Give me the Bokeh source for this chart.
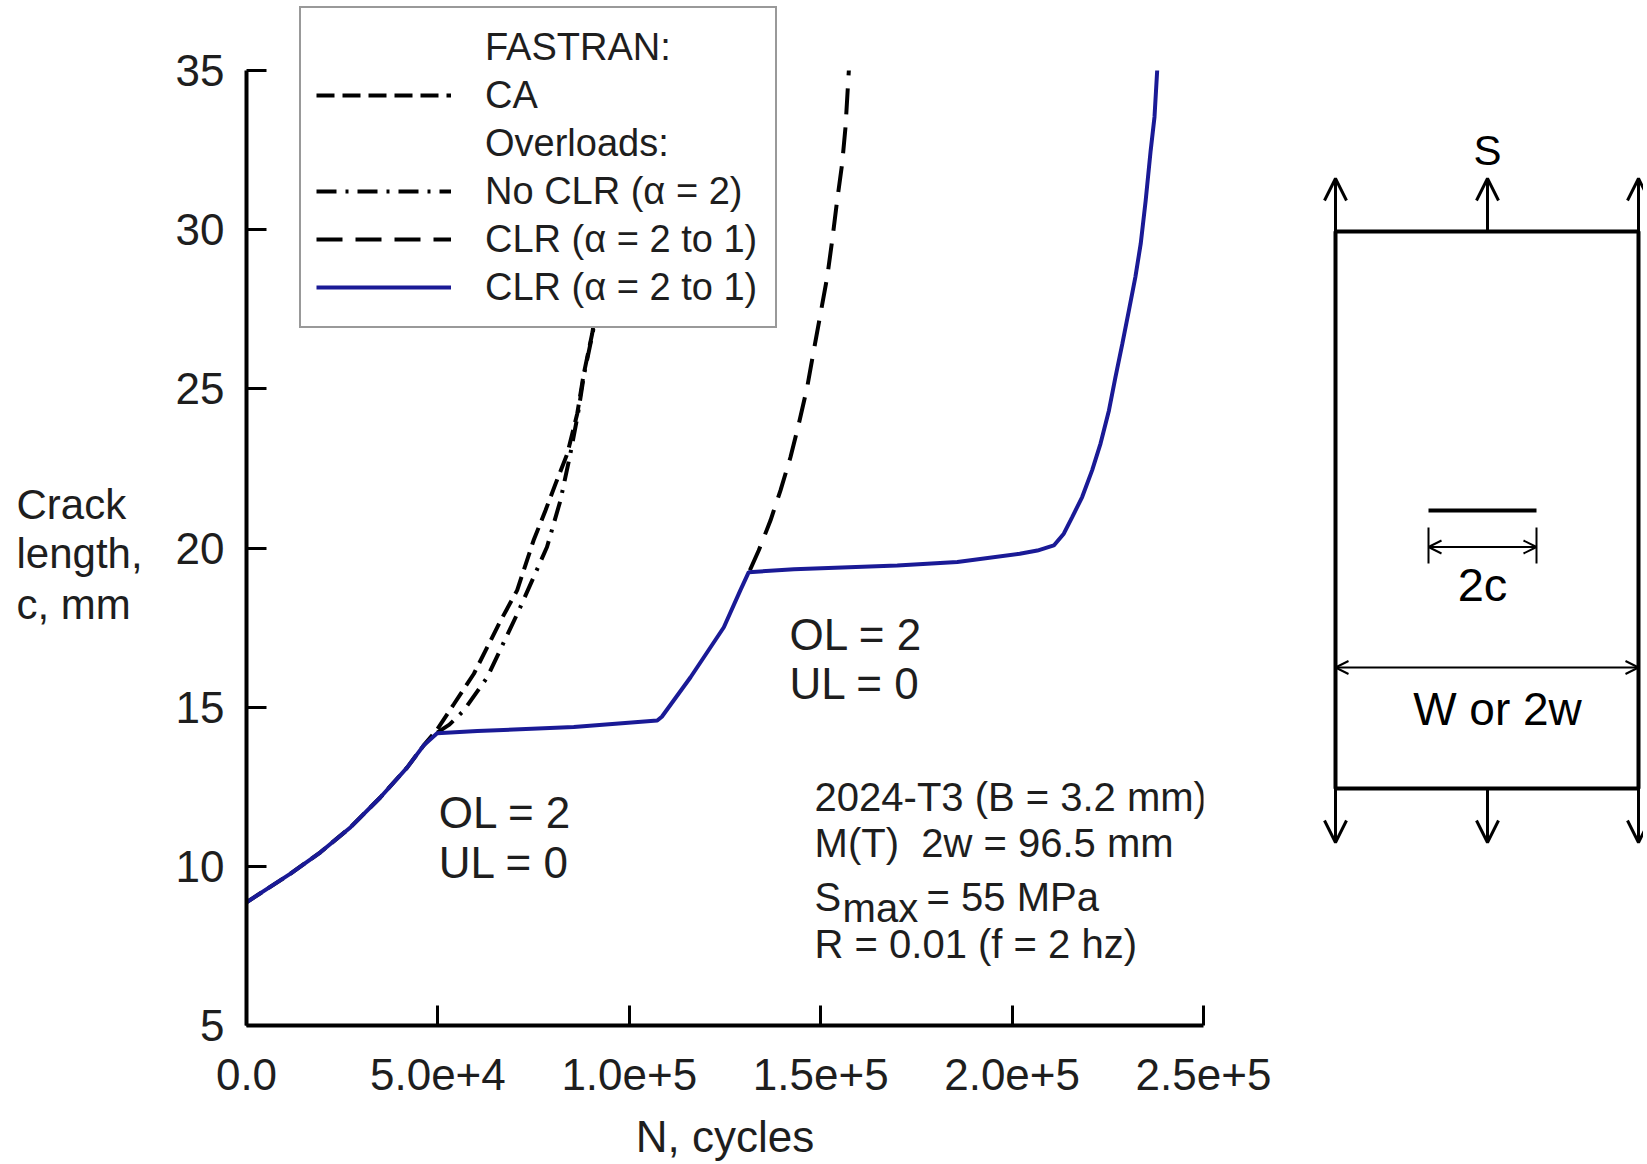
from bokeh.plotting import figure
from bokeh.models import (Range1d, FixedTicker, Legend, LegendItem, Label, Arrow, OpenHead)
from bokeh.layouts import row
from bokeh.embed import file_html
from bokeh.resources import INLINE
from bokeh.core.properties import value

# ---------------- data ----------------
# FASTRAN: CA
N_ca = [0, 11500, 19300, 27200, 35000, 42000, 46300, 49800, 54200, 59400, 66400,
        70700, 75000, 78100, 81000, 83800, 86400, 88100, 90300, 92500, 95000, 97000, 98800]
c_ca = [8.87, 9.77, 10.44, 11.23, 12.17, 13.11, 13.80, 14.30, 15.10, 16.05, 17.72,
        18.67, 20.24, 21.18, 22.10, 22.96, 24.22, 25.47, 26.73, 28.30, 30.50, 32.60, 35.0]

# Overloads: No CLR (alpha = 2)
N_noclr = [49800, 53000, 56800, 62900, 71000, 78500, 82000, 84500, 86600, 88200,
           90400, 92600, 95100, 97100, 98900]
c_noclr = [14.20, 14.45, 14.90, 15.94, 18.00, 20.03, 21.49, 22.90, 24.22, 25.47,
           26.73, 28.30, 30.50, 32.60, 35.0]

# Overloads: CLR (alpha = 2 to 1), dashed
N_clrd = [131500, 133800, 136900, 139500, 142100, 144280, 146470, 148200, 149950,
          151700, 153000, 154300, 155600, 156480, 157350]
c_clrd = [19.30, 19.92, 20.87, 21.81, 22.85, 23.90, 25.05, 26.21, 27.36,
          28.51, 29.66, 30.92, 32.07, 33.22, 35.0]

# Overloads: CLR (alpha = 2 to 1), solid
N_clr = [0, 11500, 19300, 27200, 35000, 42000, 46300, 49800, 60300, 85500, 107300,
         108500, 116000, 124700, 129000, 131200, 143000, 170000, 185700, 202000,
         206600, 210900, 213500, 215700, 218300, 220900, 223100, 225300, 227000,
         228800, 230500, 232200, 233600, 234900, 236200, 237200, 237900]
c_clr = [8.87, 9.77, 10.44, 11.23, 12.17, 13.11, 13.80, 14.18, 14.25, 14.38, 14.58,
         14.70, 15.94, 17.51, 18.67, 19.24, 19.33, 19.45, 19.56, 19.82,
         19.92, 20.08, 20.45, 20.97, 21.60, 22.44, 23.28, 24.32, 25.37,
         26.42, 27.46, 28.51, 29.56, 30.92, 32.49, 33.54, 35.0]

x_ticks = [0, 50000, 100000, 150000, 200000, 250000]
x_tick_labels = ["0.0", "5.0e+4", "1.0e+5", "1.5e+5", "2.0e+5", "2.5e+5"]
y_ticks = [5, 10, 15, 20, 25, 30, 35]
x_bounds = (0, 250000)
y_bounds = (5, 35)

legend_labels = ["FASTRAN:", "CA", "Overloads:", "No CLR (\u03b1 = 2)",
                 "CLR (\u03b1 = 2 to 1)", "CLR (\u03b1 = 2 to 1)"]
ylabel_lines = ["Crack", "length,", "c, mm"]
xlabel_text = "N, cycles"

# ---------------- styles / layout (page pixels) ----------------
FONT = "Liberation Sans"
TXT = "#1e1e1e"
BLUE = "#1a1a96"
H = 1163
X_LAB, X_MAIN, X_SK, X_END = 0, 160, 1290, 1643   # panel edges
FR_L, FR_R, FR_T, FR_B = 246, 1203, 6, 1025        # main frame
AX_T = 70                                          # top end of the c axis
y_end = y_bounds[1] + (y_bounds[1] - y_bounds[0]) * (AX_T - FR_T) / (FR_B - AX_T)

# ---------------- main plot ----------------
p = figure(width=X_SK - X_MAIN, height=H, x_range=Range1d(*x_bounds),
           y_range=Range1d(y_bounds[0], y_end),
           output_backend="svg", toolbar_location=None,
           min_border_left=FR_L - X_MAIN, min_border_right=X_SK - FR_R,
           min_border_top=FR_T, min_border_bottom=H - FR_B)
p.outline_line_color = None
p.grid.visible = False
p.background_fill_color = "white"

p.xaxis.ticker = FixedTicker(ticks=x_ticks)
p.xaxis.major_label_overrides = {t: s for t, s in zip(x_ticks, x_tick_labels)}
p.yaxis.ticker = FixedTicker(ticks=y_ticks)
p.yaxis.bounds = y_bounds
for ax in (p.xaxis[0], p.yaxis[0]):
    ax.axis_line_width = 4
    ax.axis_line_color = "black"
    ax.major_tick_line_width = 3
    ax.major_tick_line_color = "black"
    ax.major_tick_in = 20
    ax.major_tick_out = 0
    ax.minor_tick_line_color = None
    ax.major_label_text_font = FONT
    ax.major_label_text_font_size = "44px"
    ax.major_label_text_color = TXT
p.xaxis.major_label_standoff = 33
p.yaxis.major_label_standoff = 22
p.xaxis.axis_label = xlabel_text
p.xaxis.axis_label_text_font = FONT
p.xaxis.axis_label_text_font_style = "normal"
p.xaxis.axis_label_text_color = TXT
p.xaxis.axis_label_text_font_size = "44px"
p.xaxis.axis_label_standoff = 19

r_ca = p.line(N_ca, c_ca, line_color="black", line_width=4, line_dash="18 8")
r_no = p.line(N_noclr, c_noclr, line_color="black", line_width=4, line_dash="20 9 3 9")
r_cd = p.line(N_clrd, c_clrd, line_color="black", line_width=4, line_dash="26 13")
r_cl = p.line(N_clr, c_clr, line_color=BLUE, line_width=4)
r_h1 = p.line([], [], line_alpha=0)
r_h2 = p.line([], [], line_alpha=0)

legend = Legend(
    items=[LegendItem(label=legend_labels[0], renderers=[r_h1]),
           LegendItem(label=legend_labels[1], renderers=[r_ca]),
           LegendItem(label=legend_labels[2], renderers=[r_h2]),
           LegendItem(label=legend_labels[3], renderers=[r_no]),
           LegendItem(label=legend_labels[4], renderers=[r_cd]),
           LegendItem(label=legend_labels[5], renderers=[r_cl])],
    location=(53, FR_B - 328), orientation="vertical",
    glyph_width=135, glyph_height=48, label_height=48, label_width=275,
    label_standoff=34, spacing=0, padding=15, margin=0,
    border_line_color="#333333", border_line_width=2,
    background_fill_color="white", background_fill_alpha=1.0,
    label_text_font=FONT, label_text_font_size="38px", label_text_color=TXT,
    click_policy="none")
p.add_layout(legend)

def lab(x, y, text, size="44px", baseline="middle", xo=0, yo=0):
    p.add_layout(Label(x=x, y=y, text=text, text_font=FONT, text_font_size=size,
                       text_color=TXT, text_align="left", text_baseline=baseline,
                       x_offset=xo, y_offset=yo))

# overload annotations
lab(50200, 11.69, "OL = 2")
lab(50200, 10.12, "UL = 0")
lab(141850, 17.28, "OL = 2")
lab(141850, 15.74, "UL = 0")

# test conditions block
INFO_X = 148400
lab(INFO_X, 12.17, "2024-T3 (B = 3.2 mm)", "40px")
lab(INFO_X, 10.73, "M(T)\u00a0 2w = 96.5 mm", "40px")
lab(INFO_X, 9.04, "S", "40px", "alphabetic")
lab(INFO_X, 9.04, "max", "40px", "alphabetic", xo=28, yo=-11)
lab(INFO_X, 9.04, "= 55 MPa", "40px", "alphabetic", xo=112)
lab(INFO_X, 7.56, "R = 0.01 (f = 2 hz)", "40px")

# ---------------- y label panel (page-pixel ranges, frame aligned with main) ----------------
fy = figure(width=X_MAIN - X_LAB, height=H, x_range=Range1d(X_LAB, X_MAIN),
            y_range=Range1d(FR_B, FR_T), output_backend="svg", toolbar_location=None,
            min_border=0, x_axis_type=None, y_axis_type=None)
fy.outline_line_color = None
fy.grid.visible = False
fy.text(x=[16, 16, 16], y=[504, 553, 604], text=ylabel_lines, text_font=value(FONT),
        text_font_size="42px", text_color=TXT, text_align="left", text_baseline="middle")

# ---------------- specimen sketch panel ----------------
fd = figure(width=X_END - X_SK, height=H, x_range=Range1d(X_SK, X_END),
            y_range=Range1d(FR_B, FR_T), output_backend="svg", toolbar_location=None,
            min_border=0, x_axis_type=None, y_axis_type=None)
fd.outline_line_color = None
fd.grid.visible = False

L, R, T, B = 1335, 1638, 231, 788
MID = 1487
fd.quad(left=L, right=R, top=T, bottom=B, fill_color=None, line_color="black", line_width=4)
for xa in (L, MID, R):
    fd.add_layout(Arrow(x_start=xa, y_start=T, x_end=xa, y_end=178, line_width=3,
                        end=OpenHead(size=22, line_width=3)))
    fd.add_layout(Arrow(x_start=xa, y_start=B, x_end=xa, y_end=842, line_width=3,
                        end=OpenHead(size=22, line_width=3)))
fd.segment(x0=[1428], y0=[510], x1=[1536], y1=[510], line_color="black", line_width=4)
fd.segment(x0=[1428, 1536], y0=[527, 527], x1=[1428, 1536], y1=[563, 563],
           line_color="black", line_width=2)
fd.add_layout(Arrow(x_start=1428, y_start=546.5, x_end=1536, y_end=546.5, line_width=2,
                    start=OpenHead(size=13, line_width=2), end=OpenHead(size=13, line_width=2)))
fd.add_layout(Arrow(x_start=L, y_start=667, x_end=R, y_end=667, line_width=2,
                    start=OpenHead(size=13, line_width=2), end=OpenHead(size=13, line_width=2)))
fd.text(x=[MID], y=[150], text=["S"], text_font=value(FONT), text_font_size="42px",
        text_color="black", text_align="center", text_baseline="middle")
fd.text(x=[1482], y=[584], text=["2c"], text_font=value(FONT), text_font_size="47px",
        text_color="black", text_align="center", text_baseline="middle")
fd.text(x=[1497], y=[708], text=["W or 2w"], text_font=value(FONT), text_font_size="46px",
        text_color="black", text_align="center", text_baseline="middle")

layout = row(fy, p, fd)
open("out.html", "w").write(file_html(layout, INLINE))
